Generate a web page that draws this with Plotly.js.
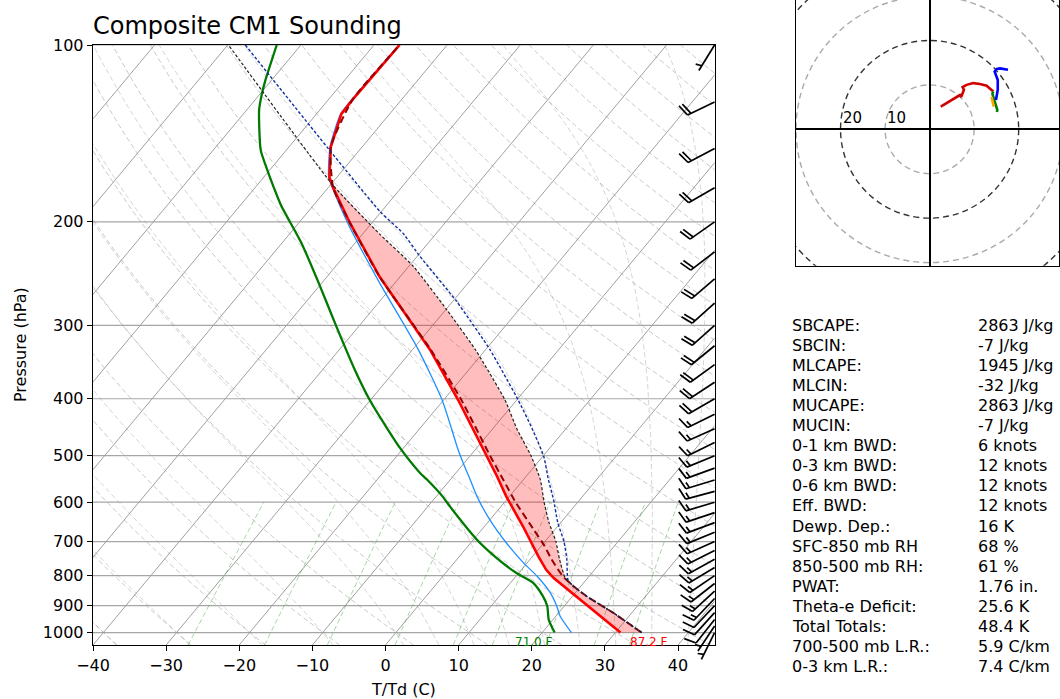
<!DOCTYPE html>
<html><head><meta charset="utf-8">
<script src="https://cdn.plot.ly/plotly-3.0.1.min.js"></script>
<style>html,body{margin:0;padding:0;background:#fff;} #chart{width:1060px;height:699px;}</style>
</head><body><div id="chart"></div>
<script>
// ---------------- DATA ----------------
// Environmental temperature (red)
const tempP = [1000, 938, 879, 834, 807, 782, 742, 660, 602, 587, 542, 476, 402, 330, 248, 200, 175, 168, 149, 131, 124, 100];
const tempT = [30.7, 26.1, 21.4, 17.6, 15.3, 13.4, 10.8, 5.3, 0.8, -0.4, -4.0, -10.1, -18.0, -27.6, -42.8, -53.2, -59.3, -61.0, -64.3, -66.6, -66.7, -66.5];
// Dewpoint (green)
const dewP = [1000, 950, 902, 868, 823, 792, 747, 695, 610, 587, 549, 535, 485, 443, 402, 357, 301, 256, 217, 188, 175, 161, 151, 129, 122, 115, 100];
const dewT = [21.7, 19.4, 17.7, 16.0, 13.1, 9.7, 5.3, 0.5, -7.0, -9.1, -13.2, -14.9, -20.5, -25.2, -30.1, -35.6, -43.1, -50.1, -57.4, -64.3, -67.4, -70.9, -73.5, -78.3, -79.6, -80.8, -83.3];
// Wet-bulb temperature (light blue)
const wetP = [1000, 938, 902, 856, 802, 761, 704, 643, 587, 549, 515, 489, 402, 330, 253, 200, 175, 168, 149, 131, 124, 100];
const wetT = [24.0, 20.6, 19.0, 16.6, 12.9, 9.5, 4.9, 0.0, -4.4, -7.3, -10.1, -12.3, -20.2, -29.2, -42.3, -53.5, -59.4, -61.1, -64.4, -66.7, -66.8, -66.6];
// Virtual temperature (dark red dashed)
const virtP = [1000, 926, 868, 834, 802, 750, 713, 668, 600, 550, 500, 400, 330, 248, 200, 175, 149, 124, 100];
const virtT = [33.6, 27.5, 22.0, 19.0, 16.4, 12.9, 10.5, 7.1, 1.5, -2.7, -7.3, -17.8, -27.5, -42.8, -53.2, -59.3, -64.3, -66.7, -66.5];
// Parcel profile (black dashed)
const parcelP = [1000, 926, 868, 834, 807, 750, 700, 650, 600, 549, 500, 450, 402, 330, 282, 238, 210, 173, 100];
const parcelT = [33.6, 27.5, 22.0, 19.0, 16.9, 14.0, 11.5, 8.4, 5.4, 2.3, -1.7, -6.7, -11.6, -21.4, -29.9, -39.4, -47.6, -59.7, -89.9];
// Second parcel profile (blue dashed)
const parcel2P = [1000, 926, 868, 834, 813, 750, 700, 650, 594, 549, 501, 450, 402, 330, 273, 229, 209, 192, 100];
const parcel2T = [33.6, 27.5, 22.0, 19.0, 17.5, 15.0, 12.6, 9.6, 6.4, 3.4, 0.1, -4.6, -9.8, -19.4, -29.5, -39.6, -44.6, -50.2, -87.6];
const surfaceTempLabel = '87.2 F';
const surfaceDewLabel = '71.0 F';

// Wind barbs (knots), every 25 hPa
const barbP = [1000, 975, 950, 925, 900, 875, 850, 825, 800, 775, 750, 725, 700, 675, 650, 625, 600, 575, 550, 525, 500, 475, 450, 425, 400, 375, 350, 325, 300, 275, 250, 225, 200, 175, 150, 125, 100];
const barbU = [2.5, 4.0, 5.5, 7.0, 8.0, 9.5, 11.0, 12.5, 13.5, 14.2, 14.3, 14.4, 14.5, 14.6, 14.7, 14.9, 15.0, 15.0, 14.8, 14.6, 14.5, 14.4, 14.8, 15.1, 15.3, 15.3, 15.3, 14.9, 14.6, 15.1, 15.8, 17.6, 17.0, 17.5, 17.0, 18.0, 3.7];
const barbV = [5.1, 6.0, 7.0, 7.7, 8.5, 10.0, 10.2, 9.8, 9.2, 8.5, 8.0, 7.2, 6.5, 6.0, 5.5, 5.0, 4.5, 4.0, 4.5, 5.3, 6.0, 7.0, 6.6, 7.5, 8.9, 10.0, 11.1, 12.2, 13.0, 13.6, 13.7, 13.4, 12.0, 10.0, 9.0, 8.7, 6.0];

// Hodograph segments (knots)
const hodoRedU = [2.5, 6.8, 7.1, 7.7, 7.4, 8.3, 9.8, 11.3, 12.8, 13.9, 14.3];
const hodoRedV = [5.1, 7.7, 7.3, 8.9, 9.5, 10.0, 10.4, 10.2, 9.8, 9.0, 8.5];
const hodoGreenU = [14.3, 14.1, 14.5, 14.9, 15.2, 15.1];
const hodoGreenV = [8.5, 8.0, 6.6, 5.3, 4.4, 3.9];
const hodoOrangeU = [14.4, 14.1, 13.9];
const hodoOrangeV = [5.1, 6.3, 7.3];
const hodoBlueU = [14.9, 15.3, 15.3, 14.9, 14.6, 15.1, 15.8, 17.6];
const hodoBlueV = [6.6, 8.9, 11.1, 12.2, 13.0, 13.6, 13.7, 13.4];
const hodoRings = [10, 20, 30, 40];
const hodoLabels = [10, 20];

// Sounding parameters table
const paramNames = ['SBCAPE:', 'SBCIN:', 'MLCAPE:', 'MLCIN:', 'MUCAPE:', 'MUCIN:', '0-1 km BWD:', '0-3 km BWD:', '0-6 km BWD:', 'Eff. BWD:', 'Dewp. Dep.:', 'SFC-850 mb RH', '850-500 mb RH:', 'PWAT:', 'Theta-e Deficit:', 'Total Totals:', '700-500 mb L.R.:', '0-3 km L.R.:'];
const paramValues = ['2863 J/kg', '-7 J/kg', '1945 J/kg', '-32 J/kg', '2863 J/kg', '-7 J/kg', '6 knots', '12 knots', '12 knots', '12 knots', '16 K', '68 %', '61 %', '1.76 in.', '25.6 K', '48.4 K', '5.9 C/km', '7.4 C/km'];

// Axis ticks
const xTickVals = [-40, -30, -20, -10, 0, 10, 20, 30, 40];
const pTickVals = [100, 200, 300, 400, 500, 600, 700, 800, 900, 1000];
// Background reference lines (starting temperatures at 1000 hPa)
const isothermT = [-130, -120, -110, -100, -90, -80, -70, -60, -50, -40, -30, -20, -10, 0, 10, 20, 30, 40];
const dryT0 = [-40, -30, -20, -10, 0, 10, 20, 30, 40, 50, 60, 70, 80, 90, 100, 110, 120, 130, 140, 150, 160, 170, 180, 190, 200, 210, 220, 230, 240];
const moistT0 = [-40, -30, -20, -10, 0, 5, 10, 15, 20, 25, 30, 35, 40, 45];
const mixRatios = [0.0004, 0.001, 0.002, 0.004, 0.007, 0.01, 0.016, 0.024, 0.032];

// ---------------- GEOMETRY ----------------
const FIG = {W: 1060, H: 699};
const PX = {L: 93, R: 714.6, T: 45, B: 645};
const XR = [-40, 45];
const PR = [1050, 100];
const pxPerDeg = (PX.R - PX.L) / (XR[1] - XR[0]);
const pxPerDec = (PX.B - PX.T) / Math.log10(PR[0] / PR[1]);
const SKEW_SLOPE = 0.834; // horizontal px per vertical px along isotherms
const K = SKEW_SLOPE * pxPerDec / pxPerDeg;
const skewX = (T, p) => T + K * Math.log10(PR[0] / p);
const skewArr = (Ts, Ps) => Ts.map((t, i) => skewX(t, Ps[i]));

// thermodynamics for background lines
const Rd = 287.04749, Cp = 1004.6662, Lv = 2.50084e6, EPS = 0.6219569;
const esat = Tk => 6.112 * Math.exp(17.67 * (Tk - 273.15) / (Tk - 29.65));
function dTdlnp(Tk, p) {
  const es = esat(Tk), rs = EPS * es / (p - es);
  return (Rd * Tk + Lv * rs) / (Cp + Lv * Lv * rs * EPS / (Rd * Tk * Tk));
}
function moistFrom(T0C, pTarget) {
  let Tk = T0C + 273.15;
  const n = 40, a = Math.log(1000), b = Math.log(pTarget), h = (b - a) / n;
  for (let i = 0; i < n; i++) {
    const lp = a + i * h;
    const k1 = dTdlnp(Tk, Math.exp(lp));
    const k2 = dTdlnp(Tk + 0.5 * h * k1, Math.exp(lp + 0.5 * h));
    const k3 = dTdlnp(Tk + 0.5 * h * k2, Math.exp(lp + 0.5 * h));
    const k4 = dTdlnp(Tk + h * k3, Math.exp(lp + h));
    Tk += h * (k1 + 2 * k2 + 2 * k3 + k4) / 6;
  }
  return Tk - 273.15;
}
const pGrid = [];
for (let i = 0; i <= 60; i++) pGrid.push(PR[0] * Math.pow(PR[1] / PR[0], i / 60));

function lineSet(list, fn) {
  const xs = [], ys = [];
  list.forEach(v => { fn(v, xs, ys); xs.push(null); ys.push(null); });
  return {xs, ys};
}
const iso = lineSet(isothermT, (T, xs, ys) => { xs.push(skewX(T, PR[0]), skewX(T, PR[1])); ys.push(PR[0], PR[1]); });
const isobar = lineSet(pTickVals, (p, xs, ys) => { xs.push(XR[0], XR[1]); ys.push(p, p); });
const dry = lineSet(dryT0, (T0, xs, ys) => pGrid.forEach(p => { xs.push(skewX((T0 + 273.15) * Math.pow(p / 1000, Rd / Cp) - 273.15, p)); ys.push(p); }));
const moist = lineSet(moistT0, (T0, xs, ys) => pGrid.forEach(p => { xs.push(skewX(moistFrom(T0, p), p)); ys.push(p); }));
const mixP = []; for (let i = 0; i <= 12; i++) mixP.push(1050 - i * 450 / 12);
const mix = lineSet(mixRatios, (w, xs, ys) => mixP.forEach(p => {
  const e = p * w / (EPS + w), l = Math.log(e / 6.112);
  xs.push(skewX(243.5 * l / (17.67 - l), p)); ys.push(p);
}));

// CAPE fill polygon: parcel up to EL, environment back down
const EL = 174;
const fillX = [], fillY = [];
parcelP.forEach((p, i) => { if (p >= EL - 1) { fillX.push(skewX(parcelT[i], p)); fillY.push(p); } });
for (let i = tempP.length - 1; i >= 0; i--) if (tempP[i] >= EL) { fillX.push(skewX(tempT[i], tempP[i])); fillY.push(tempP[i]); }

// Wind barbs (matplotlib-like geometry in screen px, mapped to the overlay axes)
function barbs(pList, uList, vList) {
  const xs = [], ys = [];
  const L = 30, Hh = 0.4 * L, Ww = 0.25 * L, S = 0.125 * L;
  pList.forEach((p0, i) => {
    const u = uList[i], v = vList[i], spd = Math.hypot(u, v);
    const d = [-u / spd, v / spd], n = [-d[1], d[0]];
    const put = (px, py) => { xs.push(XR[1] + px / pxPerDeg); ys.push(p0 * Math.pow(10, py / pxPerDec)); };
    const brk = () => { xs.push(null); ys.push(null); };
    put(0, 0); put(d[0] * L, d[1] * L); brk();
    let m = 5 * Math.round(spd / 5);
    const nflag = Math.floor(m / 50); m -= 50 * nflag;
    const nfull = Math.floor(m / 10); m -= 10 * nfull;
    const half = m >= 5;
    let o = L;
    for (let k = 0; k < nflag; k++) {
      put(d[0] * o, d[1] * o);
      put(d[0] * (o - Ww / 2) + n[0] * Hh, d[1] * (o - Ww / 2) + n[1] * Hh);
      put(d[0] * (o - Ww), d[1] * (o - Ww)); brk();
      o -= Ww + S;
    }
    for (let k = 0; k < nfull; k++) {
      put(d[0] * o, d[1] * o);
      put(d[0] * (o + Ww / 2) + n[0] * Hh, d[1] * (o + Ww / 2) + n[1] * Hh); brk();
      o -= S;
    }
    if (half) {
      if (o === L) o -= 1.5 * S;
      put(d[0] * o, d[1] * o);
      put(d[0] * (o + Ww / 4) + n[0] * Hh / 2, d[1] * (o + Ww / 4) + n[1] * Hh / 2); brk();
    }
  });
  return {xs, ys};
}
const wb = barbs(barbP, barbU, barbV);

// ---------------- TRACES ----------------
const traces = [];
const bg = (xy, color, dash, w) => traces.push({x: xy.xs, y: xy.ys, mode: 'lines', hoverinfo: 'skip', line: {color, width: w, dash}, xaxis: 'x', yaxis: 'y', connectgaps: false});
bg(isobar, '#a6a6a6', 'solid', 1.2);
bg(iso, '#a0a0a0', 'solid', 1);
bg(dry, 'rgba(150,150,150,0.5)', '5px,3px', 1);
bg(moist, 'rgba(150,150,150,0.4)', '5px,3px', 1);
bg(mix, 'rgba(60,160,60,0.45)', '5px,3px', 1);

traces.push({x: fillX, y: fillY, mode: 'lines', fill: 'toself', fillcolor: 'rgba(255,0,0,0.26)', line: {width: 0}, hoverinfo: 'skip'});
traces.push({x: skewArr(dewT, dewP), y: dewP, mode: 'lines', line: {color: '#007a00', width: 2.3, shape: 'spline', smoothing: 0.6}, name: 'Td'});
traces.push({x: skewArr(wetT, wetP), y: wetP, mode: 'lines', line: {color: '#1e90ff', width: 1.3, shape: 'spline', smoothing: 0.6}, name: 'Tw'});
traces.push({x: skewArr(tempT, tempP), y: tempP, mode: 'lines', line: {color: '#ff0000', width: 2.6}, name: 'T'});
traces.push({x: skewArr(virtT, virtP), y: virtP, mode: 'lines', line: {color: '#990000', width: 2, dash: '7px,4px', shape: 'spline', smoothing: 0.5}, name: 'Tv'});
traces.push({x: skewArr(parcel2T, parcel2P), y: parcel2P, mode: 'lines', line: {color: '#1030a0', width: 1.4, dash: '3px,2px', shape: 'spline', smoothing: 0.5}, name: 'parcel 2'});
traces.push({x: skewArr(parcelT, parcelP), y: parcelP, mode: 'lines', line: {color: '#222222', width: 1.2, dash: '3px,2px', shape: 'spline', smoothing: 0.5}, name: 'parcel'});

// barbs on overlay axes (same scales as the skew-T, not clipped)
traces.push({x: wb.xs, y: wb.ys, mode: 'lines', line: {color: 'black', width: 1.7}, xaxis: 'x3', yaxis: 'y3', hoverinfo: 'skip', connectgaps: false});

// hodograph
[[hodoRedU, hodoRedV, '#d00000'], [hodoGreenU, hodoGreenV, '#008000'], [hodoOrangeU, hodoOrangeV, '#ffa500'], [hodoBlueU, hodoBlueV, '#0000ff']].forEach(s => {
  traces.push({x: s[0], y: s[1], mode: 'lines', line: {color: s[2], width: 2.6}, xaxis: 'x2', yaxis: 'y2'});
});

// ---------------- LAYOUT ----------------
const shapes = hodoRings.map(r => ({type: 'circle', xref: 'x2', yref: 'y2', x0: -r, y0: -r, x1: r, y1: r,
  line: {color: r % 20 === 0 ? '#333333' : '#aaaaaa', width: 1.4, dash: '6px,4px'}, layer: 'below'}));

const annotations = [];
hodoLabels.forEach(r => annotations.push({xref: 'x2', yref: 'y2', x: -r, y: 0, text: String(r), showarrow: false, xanchor: 'left', yanchor: 'bottom', font: {size: 15}}));
const rowY0 = 325, rowDy = 20.1;
paramNames.forEach((t, i) => {
  annotations.push({xref: 'paper', yref: 'paper', x: 790 / FIG.W, y: 1 - (rowY0 + i * rowDy) / FIG.H, text: t, showarrow: false, xanchor: 'left', yanchor: 'middle', font: {size: 16}});
  annotations.push({xref: 'paper', yref: 'paper', x: 976 / FIG.W, y: 1 - (rowY0 + i * rowDy) / FIG.H, text: paramValues[i], showarrow: false, xanchor: 'left', yanchor: 'middle', font: {size: 16}});
});
annotations.push({xref: 'x', yref: 'y', x: skewX(dewT[0], dewP[0]), y: Math.log10(dewP[0]), text: surfaceDewLabel, showarrow: false, xanchor: 'right', yanchor: 'top', font: {size: 12, color: '#008000'}});
annotations.push({xref: 'x', yref: 'y', x: skewX(tempT[0], tempP[0]), y: Math.log10(tempP[0]), xshift: 8, text: surfaceTempLabel, showarrow: false, xanchor: 'left', yanchor: 'top', font: {size: 12, color: '#ff0000'}});
annotations.push({xref: 'paper', yref: 'paper', x: (PX.L + PX.R) / 2 / FIG.W, y: 1 - 689 / FIG.H, text: 'T/Td (C)', showarrow: false, xanchor: 'center', yanchor: 'middle', font: {size: 16}});
annotations.push({xref: 'paper', yref: 'paper', x: 20 / FIG.W, y: 1 - (PX.T + PX.B) / 2 / FIG.H, text: 'Pressure (hPa)', textangle: -90, showarrow: false, xanchor: 'center', yanchor: 'middle', font: {size: 16}});

const layout = {
  width: FIG.W, height: FIG.H, autosize: false, margin: {l: 0, r: 0, t: 0, b: 0},
  paper_bgcolor: '#ffffff', plot_bgcolor: 'rgba(0,0,0,0)', showlegend: false,
  font: {family: 'DejaVu Sans, sans-serif', size: 16, color: '#000'},
  title: {text: 'Composite CM1 Sounding', x: PX.L / FIG.W, xanchor: 'left', y: 1 - 26 / FIG.H, yanchor: 'middle', font: {size: 24}},
  xaxis: {domain: [PX.L / FIG.W, PX.R / FIG.W], range: XR, tickvals: xTickVals, ticktext: xTickVals.map(v => v < 0 ? '\u2212' + Math.abs(v) : String(v)),
    ticks: 'outside', ticklen: 5, tickcolor: '#000', showgrid: false, zeroline: false, showline: true, mirror: true, linecolor: '#000', linewidth: 1.3, fixedrange: true, anchor: 'y'},
  yaxis: {domain: [1 - PX.B / FIG.H, 1 - PX.T / FIG.H], type: 'log', range: [Math.log10(PR[0]), Math.log10(PR[1])], tickvals: pTickVals, ticktext: pTickVals.map(String),
    ticks: 'outside', ticklen: 5, tickcolor: '#000', showgrid: false, zeroline: false, showline: true, mirror: true, linecolor: '#000', linewidth: 1.3, fixedrange: true, anchor: 'x'},
  xaxis2: {domain: [796 / FIG.W, 1059 / FIG.W], range: [-30, 29.05], showticklabels: false, ticks: '', showgrid: false, zeroline: true, zerolinecolor: '#000', zerolinewidth: 2,
    showline: true, mirror: false, linecolor: '#000', linewidth: 1.3, anchor: 'y2', fixedrange: true},
  yaxis2: {domain: [1 - 265.7 / FIG.H, 1], range: [-30.7, 29.1], showticklabels: false, ticks: '', showgrid: false, zeroline: true, zerolinecolor: '#000', zerolinewidth: 2,
    showline: true, mirror: true, linecolor: '#000', linewidth: 1.3, anchor: 'x2', fixedrange: true},
  xaxis3: {domain: [0, 1], range: [XR[0] - PX.L / pxPerDeg, XR[0] + (FIG.W - PX.L) / pxPerDeg], visible: false, anchor: 'y3', fixedrange: true},
  yaxis3: {domain: [0, 1], type: 'log', range: [2 + (FIG.H - PX.T) / pxPerDec, 2 - PX.T / pxPerDec], visible: false, anchor: 'x3', fixedrange: true},
  shapes, annotations
};
Plotly.newPlot('chart', traces, layout, {displayModeBar: false, staticPlot: true});
</script></body></html>
